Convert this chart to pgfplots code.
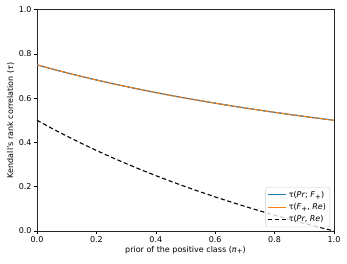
\documentclass[border=0pt]{standalone}
\usepackage{fontspec}
\setmainfont{DejaVu Sans}
\usepackage{pgfplots}
\pgfplotsset{compat=1.18}
\definecolor{mplblue}{HTML}{1F77B4}
\definecolor{mplorange}{HTML}{FF7F0E}
\begin{document}
\fontsize{8pt}{9.5pt}\selectfont
\begin{tikzpicture}
\useasboundingbox (-37pt,-33pt) rectangle (310pt,231pt);
\begin{axis}[
  at={(0pt,0pt)}, anchor=south west,
  scale only axis,
  width=297pt, height=221.5pt,
  xmin=0, xmax=1, ymin=0, ymax=1,
  xtick={0,0.2,0.4,0.6,0.8,1.0},
  ytick={0,0.2,0.4,0.6,0.8,1.0},
  xticklabels={0.0,0.2,0.4,0.6,0.8,1.0},
  yticklabels={0.0,0.2,0.4,0.6,0.8,1.0},
  /pgf/number format/assume math mode=true,
  tick align=outside,
  major tick length=2.6pt,
  tick style={black, line width=0.5pt},
  xtick pos=bottom, ytick pos=left,
  axis line style={line width=0.6pt, black!85},
  ticklabel style={font=\fontsize{8pt}{9.5pt}\selectfont},
  xlabel={prior of the positive class (\textit{π}\raisebox{-0.4ex}{\scriptsize +})},
  ylabel={Kendall's rank correlation (\textit{τ})},
  label style={font=\fontsize{8pt}{9.5pt}\selectfont},
  xlabel style={yshift=2pt},
  ylabel style={yshift=-1pt},
  legend style={at={(0.987,0.017)}, anchor=south east, draw=black!20, rounded corners=2pt, fill=white, fill opacity=0.8, text opacity=1, font=\fontsize{8pt}{9.5pt}\selectfont, inner sep=2pt, row sep=1pt},
  legend cell align=left,
  legend image code/.code={\draw[#1, line width=1.1pt] (0pt,0pt) -- (18pt,0pt);},
]
\addplot[mplblue, line width=1.1pt] coordinates {
(0,0.75) (0.05,0.73171) (0.1,0.71429) (0.15,0.69767) (0.2,0.68182) (0.25,0.66667) (0.3,0.65217) (0.35,0.63830) (0.4,0.625) (0.45,0.61224) (0.5,0.6) (0.55,0.58824) (0.6,0.57692) (0.65,0.56604) (0.7,0.55556) (0.75,0.54545) (0.8,0.53571) (0.85,0.52632) (0.9,0.51724) (0.95,0.50847) (1.0,0.5)};
\addlegendentry{τ(\textit{Pr}; \textit{F}\raisebox{-0.4ex}{\scriptsize +})}
\addplot[mplorange, line width=1.1pt] coordinates {
(0,0.75) (0.05,0.73171) (0.1,0.71429) (0.15,0.69767) (0.2,0.68182) (0.25,0.66667) (0.3,0.65217) (0.35,0.63830) (0.4,0.625) (0.45,0.61224) (0.5,0.6) (0.55,0.58824) (0.6,0.57692) (0.65,0.56604) (0.7,0.55556) (0.75,0.54545) (0.8,0.53571) (0.85,0.52632) (0.9,0.51724) (0.95,0.50847) (1.0,0.5)};
\addlegendentry{τ(\textit{F}\raisebox{-0.4ex}{\scriptsize +}, \textit{Re})}
\addplot[mplblue, line width=0.9pt, dash pattern=on 1.5pt off 4pt, forget plot] coordinates {
(0,0.75) (0.05,0.73171) (0.1,0.71429) (0.15,0.69767) (0.2,0.68182) (0.25,0.66667) (0.3,0.65217) (0.35,0.63830) (0.4,0.625) (0.45,0.61224) (0.5,0.6) (0.55,0.58824) (0.6,0.57692) (0.65,0.56604) (0.7,0.55556) (0.75,0.54545) (0.8,0.53571) (0.85,0.52632) (0.9,0.51724) (0.95,0.50847) (1.0,0.5)};
\addplot[black, line width=1.1pt, dash pattern=on 4.2pt off 2.7pt] coordinates {
(0,0.5) (0.05,0.46341) (0.1,0.42857) (0.15,0.39535) (0.2,0.36364) (0.25,0.33333) (0.3,0.30435) (0.35,0.27660) (0.4,0.25) (0.45,0.22449) (0.5,0.2) (0.55,0.17647) (0.6,0.15385) (0.65,0.13208) (0.7,0.11111) (0.75,0.09091) (0.8,0.07143) (0.85,0.05263) (0.9,0.03448) (0.95,0.01695) (1.0,0)};
\addlegendentry{τ(\textit{Pr}, \textit{Re})}
\end{axis}
\end{tikzpicture}
\end{document}
